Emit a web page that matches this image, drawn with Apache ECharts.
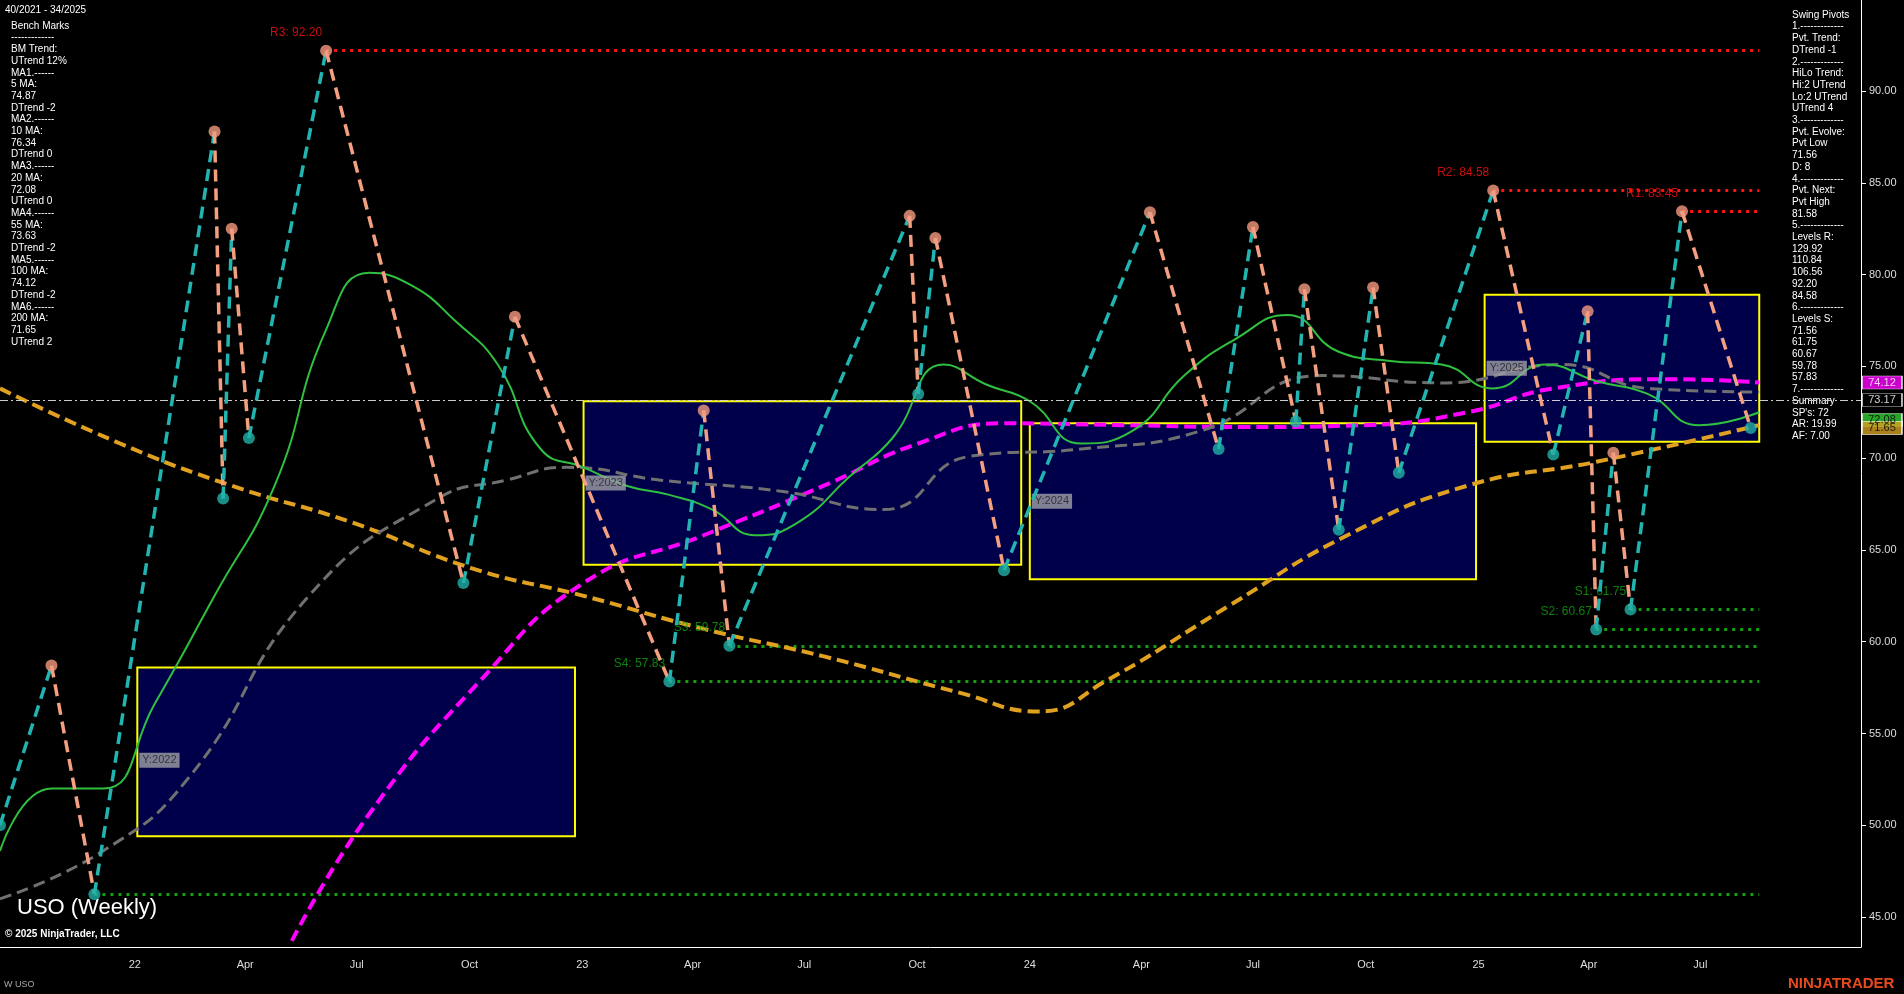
<!DOCTYPE html>
<html><head><meta charset="utf-8">
<script src="https://cdn.jsdelivr.net/npm/echarts@6/dist/echarts.min.js"></script>
<style>html,body{margin:0;background:#000}#c{width:1904px;height:994px}</style>
</head><body><div id="c"></div>
<script>
const pivotDates=['2021-09-13','2021-10-25','2021-11-29','2022-03-07','2022-03-14','2022-03-21','2022-04-04','2022-06-06','2022-09-26','2022-11-07','2023-03-13','2023-04-10','2023-05-01','2023-09-25','2023-10-02','2023-10-16','2023-12-11','2024-04-08','2024-06-03','2024-07-01','2024-08-05','2024-08-12','2024-09-09','2024-10-07','2024-10-28','2025-01-13','2025-03-03','2025-03-31','2025-04-07','2025-04-21','2025-05-05','2025-06-16','2025-08-11'];
const pivotValues=[50.0,58.7,46.25,87.8,67.8,82.5,71.1,92.2,63.2,77.7,57.83,72.6,59.78,83.2,73.5,82.0,63.9,83.4,70.5,82.6,72.0,79.2,66.1,79.3,69.2,84.58,70.2,78.0,60.67,70.3,61.75,83.45,71.65];

const levelNames=['R3: 92.20','R2: 84.58','R1: 83.45','S1: 61.75','S2: 60.67','S3: 59.78','S4: 57.83',''];
const levelValues=[92.20,84.58,83.45,61.75,60.67,59.78,57.83,46.25];
const levelStarts=['2022-06-06','2025-01-13','2025-06-16','2025-05-05','2025-04-07','2023-05-01','2023-03-13','2021-11-29'];
const levelEnd='2025-08-18';

const boxNames=['Y:2022','Y:2023','Y:2024','Y:2025'];
const boxStart=['2022-01-03','2023-01-02','2024-01-01','2025-01-06'];
const boxEnd=['2022-12-26','2023-12-25','2024-12-30','2025-08-18'];
const boxHigh=[58.6,73.1,71.9,78.9];
const boxLow=[49.4,64.2,63.4,70.9];

const ma20Dates=['2021-09-13','2021-10-25','2021-12-06','2022-01-17','2022-03-07','2022-04-25','2022-06-06','2022-07-11','2022-08-15','2022-09-19','2022-10-24','2022-11-28','2023-01-02','2023-02-06','2023-03-13','2023-04-17','2023-05-22','2023-06-26','2023-08-07','2023-09-11','2023-10-23','2023-11-27','2024-01-01','2024-02-12','2024-03-25','2024-05-06','2024-06-17','2024-07-29','2024-09-09','2024-10-21','2024-12-02','2025-01-13','2025-02-24','2025-04-07','2025-05-19','2025-06-30','2025-08-18'];
const ma20Values=[48.6,52.0,52.0,56.6,62.5,68.5,77.0,80.1,79.4,77.5,75.1,70.5,69.5,68.5,68.0,67.2,65.8,66.5,69.0,71.1,75.1,74.0,73.1,70.8,71.5,74.5,76.5,77.8,75.8,75.3,75.1,73.8,75.1,74.2,73.5,71.8,72.5];
const ma55Dates=['2021-09-13','2021-12-06','2022-02-14','2022-05-23','2022-09-05','2022-10-31','2022-12-19','2023-03-06','2023-06-12','2023-09-04','2023-11-13','2024-02-12','2024-05-20','2024-08-26','2024-12-02','2025-03-10','2025-05-19','2025-08-18'];
const ma55Values=[46.0,48.6,52.6,62.5,67.8,68.8,69.5,68.8,68.2,67.2,70.1,70.5,71.5,74.5,74.1,75.1,73.8,73.6];
const ma100Dates=['2022-05-09','2022-07-11','2022-10-10','2023-01-02','2023-04-10','2023-07-17','2023-10-02','2023-12-11','2024-03-18','2024-06-24','2024-09-30','2024-12-23','2025-03-03','2025-06-09','2025-08-18'];
const ma100Values=[43.7,50.6,57.9,63.2,65.8,68.5,70.8,71.9,71.8,71.7,71.8,72.5,73.8,74.3,74.12];
const ma200Dates=['2021-09-13','2021-12-20','2022-03-21','2022-06-27','2022-10-03','2023-01-02','2023-04-10','2023-07-17','2023-11-06','2024-01-08','2024-03-04','2024-06-10','2024-09-16','2024-12-23','2025-04-07','2025-08-18'];
const ma200Values=[73.8,70.8,68.5,66.5,64.0,62.5,60.7,59.2,57.2,56.2,57.9,61.9,65.8,68.5,69.8,71.8];

const yTicks=[45,50,55,60,65,70,75,80,85,90];
const monthNames=['Jan','Feb','Mar','Apr','May','Jun','Jul','Aug','Sep','Oct','Nov','Dec'];
const tagValues=[74.12,73.17,72.08,71.65];
const tagColors=['#ff00ff','#000','#33cc33','#d4a020'];
const tagText=['#fff','#fff','#000','#000'];
const lastPrice=73.17;

const leftLines=['Bench Marks','-------------','BM Trend:','UTrend 12%','MA1.------','5 MA:','74.87','DTrend -2','MA2.------','10 MA:','76.34','DTrend 0','MA3.------','20 MA:','72.08','UTrend 0','MA4.------','55 MA:','73.63','DTrend -2','MA5.------','100 MA:','74.12','DTrend -2','MA6.------','200 MA:','71.65','UTrend 2'];
const rightLines=['Swing Pivots','1.-------------','Pvt. Trend:','DTrend -1','2.-------------','HiLo Trend:','Hi:2 UTrend','Lo:2 UTrend','UTrend 4','3.-------------','Pvt. Evolve:','Pvt Low','71.56','D: 8','4.-------------','Pvt. Next:','Pvt High','81.58','5.-------------','Levels R:','129.92','110.84','106.56','92.20','84.58','6.-------------','Levels S:','71.56','61.75','60.67','59.78','57.83','7.-------------','Summary','SP\'s: 72','AR: 19.99','AF: 7.00'];

const zz=[];
for(let i=0;i<pivotDates.length-1;i++){
  const up=pivotValues[i+1]>pivotValues[i];
  zz.push({coords:[[pivotDates[i],pivotValues[i]],[pivotDates[i+1],pivotValues[i+1]]],
    lineStyle:{color:up?'#22b4b0':'#f4a080',width:3.5,type:[12,7],opacity:1}});
}
const piv=pivotDates.map((d,i)=>{
  const hi=(i>0?pivotValues[i]>pivotValues[i-1]:pivotValues[i]>pivotValues[i+1]);
  return {value:[d,pivotValues[i]],itemStyle:{color:hi?'#f49a80':'#20b0a8'}};
});
const lv=levelValues.map((v,i)=>({coords:[[levelStarts[i],v],[levelEnd,v]],
  lineStyle:{color:i<3?'#ff1010':'#10a010',width:3,type:[3,5],opacity:1}}));
const lvLabels=levelNames.map((n,i)=>n?{value:[levelStarts[i],levelValues[i]],name:n,color:i<3?'#ff1010':'#10a010'}:null).filter(Boolean);
const boxes=boxNames.map((n,i)=>[{coord:[boxStart[i],boxHigh[i]]},{coord:[boxEnd[i],boxLow[i]]}]);

function maSeries(dates,vals,color,type,w){
  return {type:'line',data:dates.map((d,i)=>[d,vals[i]]),smooth:0.5,showSymbol:false,
    lineStyle:{color:color,width:w,type:type},z:4,silent:true};
}

const chart=echarts.init(document.getElementById('c'));
const g=[];
g.push({type:'text',left:5,top:5,style:{text:'40/2021 - 34/2025',fill:'#fff',font:'10px Arial'}});
leftLines.forEach((t,i)=>g.push({type:'text',left:11,top:21+i*11.7,style:{text:t,fill:'#fff',font:'10px Arial'}}));
rightLines.forEach((t,i)=>g.push({type:'text',left:1792,top:10+i*11.7,style:{text:t,fill:'#fff',font:'10px Arial'}}));
g.push({type:'text',left:17,top:897,style:{text:'USO (Weekly)',fill:'#fff',font:'22px Arial'}});
g.push({type:'text',left:5,top:929,style:{text:'© 2025 NinjaTrader, LLC',fill:'#fff',font:'bold 10px Arial'}});
g.push({type:'text',left:4,top:980,style:{text:'W USO',fill:'#aaa',font:'9px Arial'}});
g.push({type:'text',left:1788,top:976,style:{text:'NINJATRADER',fill:'#e84a20',font:'bold 15px Arial'}});

chart.setOption({
  backgroundColor:'#000',animation:false,
  grid:{left:0,right:43,top:0,bottom:47},
  xAxis:{type:'time',min:'2021-09-13',max:'2025-11-09',splitNumber:16,
    axisLine:{lineStyle:{color:'#fff'}},axisTick:{show:false},
    splitLine:{show:false},
    axisLabel:{color:'#ddd',fontSize:11,fontFamily:'Arial',margin:12,
      formatter:function(v){const d=new Date(v);
        if(v<new Date('2021-12-20').getTime()||v>new Date('2025-08-20').getTime())return '';
        if(d.getDate()!==1)return '';
        const m=d.getMonth();
        return m===0?String(d.getFullYear()).slice(2):monthNames[m];}}},
  yAxis:{type:'value',position:'right',min:43.37,max:94.96,
    axisLine:{show:true,lineStyle:{color:'#fff'}},
    axisTick:{show:true,customValues:yTicks,lineStyle:{color:'#fff'}},
    splitLine:{show:false},
    axisLabel:{color:'#ddd',fontSize:11,fontFamily:'Arial',customValues:yTicks,
      formatter:v=>v.toFixed(2)}},
  graphic:g,
  series:[
    {type:'line',data:[],markArea:{silent:true,itemStyle:{color:'#00004a',borderColor:'#ffff00',borderWidth:2},
      data:boxes},z:1},
    {type:'scatter',data:boxNames.map((n,i)=>[boxStart[i],boxLow[i]+(boxHigh[i]-boxLow[i])*(i==0?0.45:0.5)]),
      symbolSize:0,z:6,label:{show:true,position:'right',distance:2,formatter:p=>boxNames[p.dataIndex],
      color:'#222',backgroundColor:'#a0a0a8',padding:[2,3],fontSize:11,fontFamily:'Arial'}},
    {type:'line',data:[],markLine:{silent:true,symbol:'none',label:{show:false},
      lineStyle:{color:'#ccc',type:[8,3,2,3],width:1},data:[{yAxis:lastPrice}]}},
    {type:'lines',coordinateSystem:'cartesian2d',data:lv,z:2},
    {type:'scatter',data:lvLabels.map(d=>({value:d.value,label:{color:d.color}})),symbolSize:0,z:6,
      label:{show:true,formatter:p=>lvLabels[p.dataIndex].name,position:'top',distance:12,offset:[-30,0],
        fontSize:12,fontFamily:'Arial'}},
    maSeries(ma200Dates,ma200Values,'#e0a020',[12,6],4),
    maSeries(ma100Dates,ma100Values,'#ff00ff',[12,6],4),
    maSeries(ma55Dates,ma55Values,'#707070',[12,6],3),
    maSeries(ma20Dates,ma20Values,'#30c040','solid',2),
    {type:'lines',coordinateSystem:'cartesian2d',data:zz,z:7},
    {type:'scatter',data:piv,symbolSize:12,z:8},
    {type:'scatter',data:tagValues.map((v,i)=>({value:['2025-11-09',v],itemStyle:{color:tagColors[i]},
        label:{color:tagText[i]}})),symbol:'rect',symbolSize:[40,13],
      symbolOffset:[21,0],z:9,
      itemStyle:{borderColor:'#fff',borderWidth:1},
      label:{show:true,position:'inside',formatter:p=>tagValues[p.dataIndex].toFixed(2),
        fontSize:11,fontFamily:'Arial'}}
  ]
});
</script></body></html>
